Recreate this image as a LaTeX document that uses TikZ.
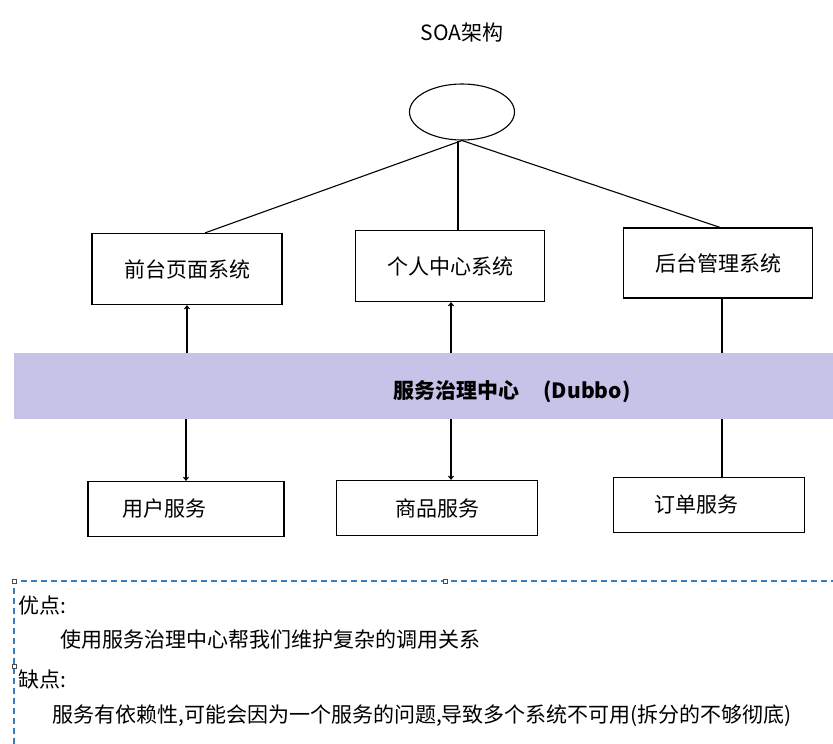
\documentclass[tikz,border=0pt]{standalone}
\usepackage{fontspec}
\setmainfont{Noto Sans CJK SC}
\usetikzlibrary{shapes.geometric,arrows.meta}
\definecolor{bandfill}{RGB}{199,194,232}
\definecolor{selblue}{RGB}{55,125,190}
\tikzset{
  sysbox/.style={draw, line width=1.2pt, minimum width=190pt, minimum height=71pt, inner sep=0pt},
  svcbox/.style={draw, line width=1.2pt, minimum height=55pt, inner sep=0pt},
  link/.style={line width=1.1pt},
  tip/.style={line width=1.1pt, -{Straight Barb[length=3pt,width=5pt]}},
  handle/.style={draw=black!70, fill=white, line width=0.5pt, minimum size=4pt, inner sep=0pt},
  note/.style={anchor=west, inner sep=0pt}
}
\begin{document}
\begin{tikzpicture}[x=1pt,y=-1pt,font=\fontsize{21}{25}\selectfont]
  \useasboundingbox (0,0) rectangle (833,744);
  % title and top
  \node (title) at (462,33) {SOA架构};
  \node[draw, ellipse, line width=1.1pt, minimum width=105pt, minimum height=56pt] (top) at (462,112) {};
  % systems
  \node[sysbox] (front) at (187,269) {前台页面系统};
  \node[sysbox, minimum width=189pt] (user) at (450,266) {个人中心系统};
  \node[sysbox, minimum width=189pt, minimum height=70pt] (admin) at (718,263) {后台管理系统};
  % registry
  \node[fill=bandfill, minimum width=819pt, minimum height=66pt, inner sep=0pt] (band) at (423.5,386) {};
  \node[font=\fontsize{21}{25}\selectfont\bfseries] (dubbo) at (512,392) {服务治理中心\hspace{24pt}(Dubbo)};
  % services
  \node[svcbox, minimum width=196pt] (usersvc) at (186,509) {\hspace*{-44pt}用户服务};
  \node[svcbox, minimum width=201pt] (goodsvc) at (437,508) {商品服务};
  \node[svcbox, minimum width=191pt] (ordersvc) at (709,505) {\hspace*{-26pt}订单服务};
  % links
  \draw[link] (top.south) -- ([xshift=18pt]front.north);
  \draw[link] ([xshift=-4pt]top.south) -- ([xshift=8pt]user.north);
  \draw[link] (top.south) -- ([xshift=2pt]admin.north);
  \draw[tip] (band.north -| front.south) -- (front.south);
  \draw[tip] (band.south -| usersvc.north) -- (usersvc.north);
  \draw[tip] ([xshift=1pt]band.north -| user.south) -- ([xshift=1pt]user.south);
  \draw[tip] ([xshift=14pt]band.south -| goodsvc.north) -- ([xshift=14pt]goodsvc.north);
  \draw[link] ([xshift=4pt]band.north -| admin.south) -- ([xshift=4pt]admin.south);
  \draw[link] ([xshift=13pt]band.south -| ordersvc.north) -- ([xshift=13pt]ordersvc.north);
  % notes
  \coordinate (selnw) at (14,581);
  \coordinate (selne) at (833,581);
  \coordinate (selsw) at (14,744);
  \draw[selblue, dash pattern=on 6pt off 4pt, line width=1.5pt] (selsw) -- (selnw) -- (selne);
  \node[handle] (h1) at (selnw) {};
  \node[handle] (h2) at (445,581) {};
  \node[handle] (h3) at (14,666) {};
  \node[note] (pro) at (18,606) {优点:};
  \node[note] (protext) at (60,640) {使用服务治理中心帮我们维护复杂的调用关系};
  \node[note] (con) at (18,679) {缺点:};
  \node[note] (context) at (52,716) {服务有依赖性,可能会因为一个服务的问题,导致多个系统不可用(拆分的不够彻底)};
\end{tikzpicture}
\end{document}
